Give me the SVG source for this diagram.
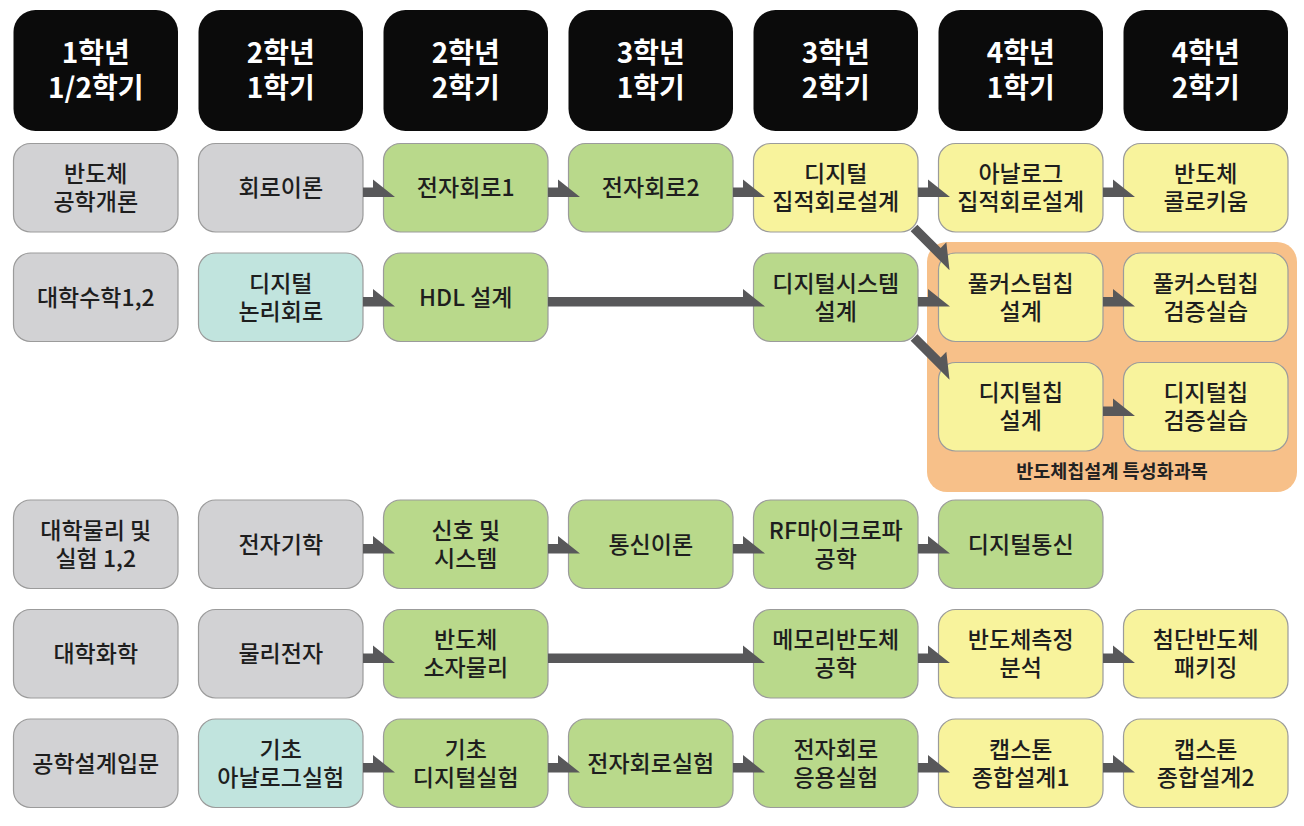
<svg xmlns="http://www.w3.org/2000/svg" width="1304" height="826" viewBox="0 0 1304 826">
<style>
.hd{fill:#0b0b0b}
.hd-t{fill:#ffffff;font-family:"Noto Sans CJK KR","Noto Sans",sans-serif;font-size:28px;font-weight:700;text-anchor:middle}
.n{stroke:#9b9b9b;stroke-width:1.2}
.g{fill:#d2d2d4}
.t{fill:#c1e4de}
.gr{fill:#b9d98b}
.y{fill:#f8f39c}
.tx{fill:#1e1e1e;font-family:"Noto Sans CJK KR","Noto Sans",sans-serif;font-size:23px;font-weight:500;text-anchor:middle}
.ar{fill:#58585a}
.lbl{fill:#222222;font-family:"Noto Sans CJK KR","Noto Sans",sans-serif;font-size:18.5px;font-weight:700;text-anchor:middle}
</style>
<defs>
<path id="arr" d="M0,-4.75H10V-12.75L32,4.75H0Z"/>
<path id="arrD" d="M0,-4.75H33V-12.75L55,4.75H0Z"/>
<path id="arrL" d="M0,-4.75H195V-12.75L217,4.75H0Z"/>
</defs>
<rect width="1304" height="826" fill="#ffffff"/>

<g id="headers">
<g id="h1"><rect class="hd" x="13.5" y="10" width="164.5" height="121" rx="22"/><text class="hd-t" x="95.75" y="63">1학년</text><text class="hd-t" x="95.75" y="98">1/2학기</text></g>
<g id="h2"><rect class="hd" x="198.5" y="10" width="164.5" height="121" rx="22"/><text class="hd-t" x="280.75" y="63">2학년</text><text class="hd-t" x="280.75" y="98">1학기</text></g>
<g id="h3"><rect class="hd" x="383.5" y="10" width="164.5" height="121" rx="22"/><text class="hd-t" x="465.75" y="63">2학년</text><text class="hd-t" x="465.75" y="98">2학기</text></g>
<g id="h4"><rect class="hd" x="568.5" y="10" width="164.5" height="121" rx="22"/><text class="hd-t" x="650.75" y="63">3학년</text><text class="hd-t" x="650.75" y="98">1학기</text></g>
<g id="h5"><rect class="hd" x="753.5" y="10" width="164.5" height="121" rx="22"/><text class="hd-t" x="835.75" y="63">3학년</text><text class="hd-t" x="835.75" y="98">2학기</text></g>
<g id="h6"><rect class="hd" x="938.5" y="10" width="164.5" height="121" rx="22"/><text class="hd-t" x="1020.75" y="63">4학년</text><text class="hd-t" x="1020.75" y="98">1학기</text></g>
<g id="h7"><rect class="hd" x="1123.5" y="10" width="164.5" height="121" rx="22"/><text class="hd-t" x="1205.75" y="63">4학년</text><text class="hd-t" x="1205.75" y="98">2학기</text></g>
</g>

<g id="specialization">
<rect x="927" y="242" width="370" height="250" rx="20" fill="#f7c089"/>
<text class="lbl" x="1112" y="478">반도체칩설계 특성화과목</text>
</g>

<g id="nodes">
<!-- Row 1 -->
<g id="n-semi-intro"><rect class="n g" x="13.5" y="143.5" width="164.5" height="88.5" rx="17"/><text class="tx" x="95.75" y="182.45">반도체</text><text class="tx" x="95.75" y="210.45">공학개론</text></g>
<g id="n-circuit"><rect class="n g" x="198.5" y="143.5" width="164.5" height="88.5" rx="17"/><text class="tx" x="280.75" y="196.45">회로이론</text></g>
<g id="n-elec1"><rect class="n gr" x="383.5" y="143.5" width="164.5" height="88.5" rx="17"/><text class="tx" x="465.75" y="196.45">전자회로1</text></g>
<g id="n-elec2"><rect class="n gr" x="568.5" y="143.5" width="164.5" height="88.5" rx="17"/><text class="tx" x="650.75" y="196.45">전자회로2</text></g>
<g id="n-dic"><rect class="n y" x="753.5" y="143.5" width="164.5" height="88.5" rx="17"/><text class="tx" x="835.75" y="182.45">디지털</text><text class="tx" x="835.75" y="210.45">집적회로설계</text></g>
<g id="n-aic"><rect class="n y" x="938.5" y="143.5" width="164.5" height="88.5" rx="17"/><text class="tx" x="1020.75" y="182.45">아날로그</text><text class="tx" x="1020.75" y="210.45">집적회로설계</text></g>
<g id="n-colloq"><rect class="n y" x="1123.5" y="143.5" width="164.5" height="88.5" rx="17"/><text class="tx" x="1205.75" y="182.45">반도체</text><text class="tx" x="1205.75" y="210.45">콜로키움</text></g>
<!-- Row 2 -->
<g id="n-math"><rect class="n g" x="13.5" y="253" width="164.5" height="88.5" rx="17"/><text class="tx" x="95.75" y="305.95">대학수학1,2</text></g>
<g id="n-logic"><rect class="n t" x="198.5" y="253" width="164.5" height="88.5" rx="17"/><text class="tx" x="280.75" y="291.95">디지털</text><text class="tx" x="280.75" y="319.95">논리회로</text></g>
<g id="n-hdl"><rect class="n gr" x="383.5" y="253" width="164.5" height="88.5" rx="17"/><text class="tx" x="465.75" y="305.95">HDL 설계</text></g>
<g id="n-dsys"><rect class="n gr" x="753.5" y="253" width="164.5" height="88.5" rx="17"/><text class="tx" x="835.75" y="291.95">디지털시스템</text><text class="tx" x="835.75" y="319.95">설계</text></g>
<g id="n-fc"><rect class="n y" x="938.5" y="253" width="164.5" height="88.5" rx="17"/><text class="tx" x="1020.75" y="291.95">풀커스텀칩</text><text class="tx" x="1020.75" y="319.95">설계</text></g>
<g id="n-fcv"><rect class="n y" x="1123.5" y="253" width="164.5" height="88.5" rx="17"/><text class="tx" x="1205.75" y="291.95">풀커스텀칩</text><text class="tx" x="1205.75" y="319.95">검증실습</text></g>
<!-- Row 3 -->
<g id="n-dc"><rect class="n y" x="938.5" y="362.5" width="164.5" height="88.5" rx="17"/><text class="tx" x="1020.75" y="401.45">디지털칩</text><text class="tx" x="1020.75" y="429.45">설계</text></g>
<g id="n-dcv"><rect class="n y" x="1123.5" y="362.5" width="164.5" height="88.5" rx="17"/><text class="tx" x="1205.75" y="401.45">디지털칩</text><text class="tx" x="1205.75" y="429.45">검증실습</text></g>
<!-- Row 4 -->
<g id="n-phys"><rect class="n g" x="13.5" y="500" width="164.5" height="88.5" rx="17"/><text class="tx" x="95.75" y="538.95">대학물리 및</text><text class="tx" x="95.75" y="566.95">실험 1,2</text></g>
<g id="n-em"><rect class="n g" x="198.5" y="500" width="164.5" height="88.5" rx="17"/><text class="tx" x="280.75" y="552.95">전자기학</text></g>
<g id="n-sig"><rect class="n gr" x="383.5" y="500" width="164.5" height="88.5" rx="17"/><text class="tx" x="465.75" y="538.95">신호 및</text><text class="tx" x="465.75" y="566.95">시스템</text></g>
<g id="n-comm"><rect class="n gr" x="568.5" y="500" width="164.5" height="88.5" rx="17"/><text class="tx" x="650.75" y="552.95">통신이론</text></g>
<g id="n-rf"><rect class="n gr" x="753.5" y="500" width="164.5" height="88.5" rx="17"/><text class="tx" x="835.75" y="538.95">RF마이크로파</text><text class="tx" x="835.75" y="566.95">공학</text></g>
<g id="n-dcomm"><rect class="n gr" x="938.5" y="500" width="164.5" height="88.5" rx="17"/><text class="tx" x="1020.75" y="552.95">디지털통신</text></g>
<!-- Row 5 -->
<g id="n-chem"><rect class="n g" x="13.5" y="609.5" width="164.5" height="88.5" rx="17"/><text class="tx" x="95.75" y="662.45">대학화학</text></g>
<g id="n-pe"><rect class="n g" x="198.5" y="609.5" width="164.5" height="88.5" rx="17"/><text class="tx" x="280.75" y="662.45">물리전자</text></g>
<g id="n-dev"><rect class="n gr" x="383.5" y="609.5" width="164.5" height="88.5" rx="17"/><text class="tx" x="465.75" y="648.45">반도체</text><text class="tx" x="465.75" y="676.45">소자물리</text></g>
<g id="n-mem"><rect class="n gr" x="753.5" y="609.5" width="164.5" height="88.5" rx="17"/><text class="tx" x="835.75" y="648.45">메모리반도체</text><text class="tx" x="835.75" y="676.45">공학</text></g>
<g id="n-meas"><rect class="n y" x="938.5" y="609.5" width="164.5" height="88.5" rx="17"/><text class="tx" x="1020.75" y="648.45">반도체측정</text><text class="tx" x="1020.75" y="676.45">분석</text></g>
<g id="n-pkg"><rect class="n y" x="1123.5" y="609.5" width="164.5" height="88.5" rx="17"/><text class="tx" x="1205.75" y="648.45">첨단반도체</text><text class="tx" x="1205.75" y="676.45">패키징</text></g>
<!-- Row 6 -->
<g id="n-intro-design"><rect class="n g" x="13.5" y="719" width="164.5" height="88.5" rx="17"/><text class="tx" x="95.75" y="771.95">공학설계입문</text></g>
<g id="n-alab"><rect class="n t" x="198.5" y="719" width="164.5" height="88.5" rx="17"/><text class="tx" x="280.75" y="757.95">기초</text><text class="tx" x="280.75" y="785.95">아날로그실험</text></g>
<g id="n-dlab"><rect class="n gr" x="383.5" y="719" width="164.5" height="88.5" rx="17"/><text class="tx" x="465.75" y="757.95">기초</text><text class="tx" x="465.75" y="785.95">디지털실험</text></g>
<g id="n-elab"><rect class="n gr" x="568.5" y="719" width="164.5" height="88.5" rx="17"/><text class="tx" x="650.75" y="771.95">전자회로실험</text></g>
<g id="n-ealab"><rect class="n gr" x="753.5" y="719" width="164.5" height="88.5" rx="17"/><text class="tx" x="835.75" y="757.95">전자회로</text><text class="tx" x="835.75" y="785.95">응용실험</text></g>
<g id="n-cap1"><rect class="n y" x="938.5" y="719" width="164.5" height="88.5" rx="17"/><text class="tx" x="1020.75" y="757.95">캡스톤</text><text class="tx" x="1020.75" y="785.95">종합설계1</text></g>
<g id="n-cap2"><rect class="n y" x="1123.5" y="719" width="164.5" height="88.5" rx="17"/><text class="tx" x="1205.75" y="757.95">캡스톤</text><text class="tx" x="1205.75" y="785.95">종합설계2</text></g>
</g>

<g id="connectors" class="ar">
<!-- Row 1 -->
<use href="#arr" transform="translate(363,192.25)"/>
<use href="#arr" transform="translate(548,192.25)"/>
<use href="#arr" transform="translate(733,192.25)"/>
<use href="#arr" transform="translate(918,192.25)"/>
<use href="#arr" transform="translate(1103,192.25)"/>
<use href="#arrD" transform="translate(914,228) rotate(45)"/>
<!-- Row 2 -->
<use href="#arr" transform="translate(363,301.75)"/>
<use href="#arrL" transform="translate(548,301.75)"/>
<use href="#arr" transform="translate(918,301.75)"/>
<use href="#arr" transform="translate(1103,301.75)"/>
<use href="#arrD" transform="translate(914,337.5) rotate(45)"/>
<!-- Row 3 -->
<use href="#arr" transform="translate(1103,411.25)"/>
<!-- Row 4 -->
<use href="#arr" transform="translate(363,548.75)"/>
<use href="#arr" transform="translate(548,548.75)"/>
<use href="#arr" transform="translate(733,548.75)"/>
<use href="#arr" transform="translate(918,548.75)"/>
<!-- Row 5 -->
<use href="#arr" transform="translate(363,658.25)"/>
<use href="#arrL" transform="translate(548,658.25)"/>
<use href="#arr" transform="translate(918,658.25)"/>
<use href="#arr" transform="translate(1103,658.25)"/>
<!-- Row 6 -->
<use href="#arr" transform="translate(363,767.75)"/>
<use href="#arr" transform="translate(548,767.75)"/>
<use href="#arr" transform="translate(733,767.75)"/>
<use href="#arr" transform="translate(918,767.75)"/>
<use href="#arr" transform="translate(1103,767.75)"/>
</g>
</svg>
